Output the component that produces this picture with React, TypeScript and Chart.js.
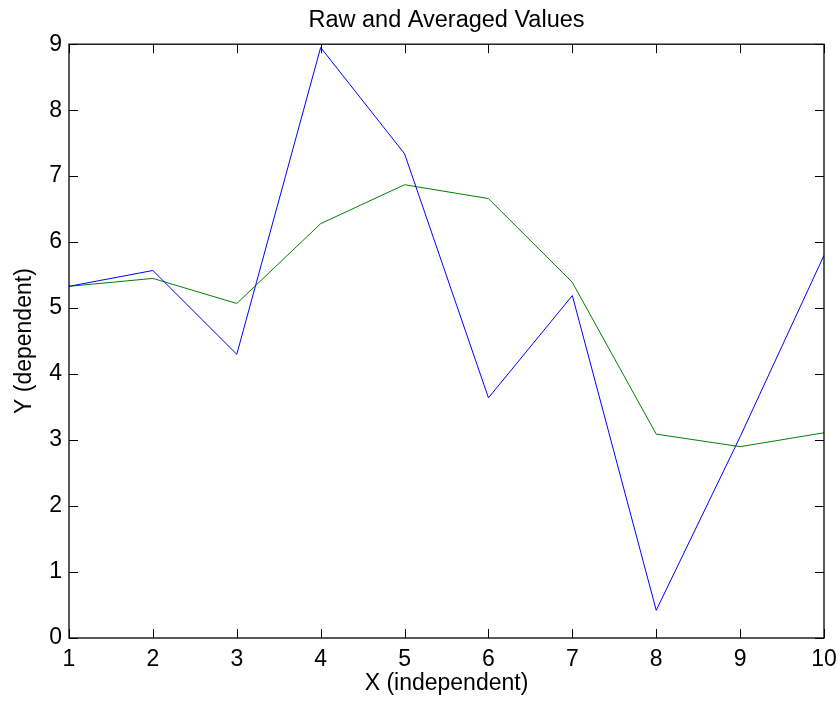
import React, { useEffect, useRef } from "react";
import { Chart, registerables } from "chart.js";

Chart.register(...registerables);

const xValues = [1, 2, 3, 4, 5, 6, 7, 8, 9, 10];
const rawValues = [5.33, 5.57, 4.30, 8.95, 7.34, 3.64, 5.19, 0.42, 3.05, 5.80];
const averagedValues = [5.33, 5.45, 5.07, 6.28, 6.87, 6.66, 5.39, 3.09, 2.90, 3.11];

const titleText = "Raw and Averaged Values";
const xLabel = "X (independent)";
const yLabel = "Y (dependent)";

const FONT = "'Liberation Sans', Arial, Helvetica, sans-serif";

const boxPlugin = {
  id: "matlabBox",
  afterDatasetsDraw(chart: any) {
    const { ctx, chartArea, scales } = chart;
    const { left, right, top, bottom } = chartArea;
    const tl = 9;
    ctx.save();
    ctx.strokeStyle = "#000";
    ctx.lineWidth = 1;
    ctx.beginPath();
    const xs = scales.x;
    xs.ticks.forEach((t: any) => {
      const px = Math.round(xs.getPixelForValue(t.value)) + 0.5;
      ctx.moveTo(px, bottom);
      ctx.lineTo(px, bottom - tl);
      ctx.moveTo(px, top);
      ctx.lineTo(px, top + tl);
    });
    const ys = scales.y;
    ys.ticks.forEach((t: any) => {
      const py = Math.round(ys.getPixelForValue(t.value)) + 0.5;
      ctx.moveTo(left, py);
      ctx.lineTo(left + tl, py);
      ctx.moveTo(right, py);
      ctx.lineTo(right - tl, py);
    });
    ctx.stroke();
    ctx.lineWidth = 1.3;
    ctx.strokeRect(left, top, right - left, bottom - top);
    ctx.restore();
  },
};

export default function App() {
  const ref = useRef<HTMLCanvasElement | null>(null);
  useEffect(() => {
    if (!ref.current) return;
    const chart = new Chart(ref.current, {
      type: "line",
      data: {
        datasets: [
          {
            label: "Raw",
            data: xValues.map((x, i) => ({ x, y: rawValues[i] })),
            borderColor: "#0000ff",
            backgroundColor: "#0000ff",
            borderWidth: 1,
            pointRadius: 0,
            tension: 0,
          },
          {
            label: "Averaged",
            data: xValues.map((x, i) => ({ x, y: averagedValues[i] })),
            borderColor: "#008000",
            backgroundColor: "#008000",
            borderWidth: 1,
            pointRadius: 0,
            tension: 0,
          },
        ],
      },
      options: {
        responsive: false,
        animation: false,
        layout: { padding: { left: 0, right: 16, top: 0, bottom: 0 } },
        plugins: {
          legend: { display: false },
          tooltip: { enabled: false },
          title: {
            display: true,
            fullSize: false,
            text: titleText,
            color: "#000",
            font: { family: FONT, size: 23.5, weight: "normal" },
            padding: { top: 6, bottom: 10 },
          },
        },
        scales: {
          x: {
            type: "linear",
            min: 1,
            max: 10,
            afterFit: (s: any) => {
              s.height = 67;
              s.paddingLeft = 0;
              s.paddingRight = 0;
            },
            ticks: {
              stepSize: 1,
              color: "#000",
              padding: 8,
              font: { family: FONT, size: 23 },
              maxRotation: 0,
            },
            grid: { display: false, drawTicks: false },
            border: { display: false },
            title: {
              display: true,
              text: xLabel,
              color: "#000",
              font: { family: FONT, size: 23 },
              padding: { top: 0, bottom: 8 },
            },
          },
          y: {
            min: 0,
            max: 9,
            afterFit: (s: any) => {
              s.width = 69;
              s.paddingTop = 0;
              s.paddingBottom = 0;
            },
            ticks: {
              stepSize: 1,
              color: "#000",
              padding: 7,
              font: { family: FONT, size: 23 },
            },
            grid: { display: false, drawTicks: false },
            border: { display: false },
            title: {
              display: true,
              text: yLabel,
              color: "#000",
              font: { family: FONT, size: 23 },
              padding: { top: 11, bottom: 0 },
            },
          },
        },
      },
      plugins: [boxPlugin],
    });
    return () => chart.destroy();
  }, []);
  return (
    <div style={{ position: "absolute", left: 0, top: 0, width: 840, height: 705, background: "#fff" }}>
      <canvas ref={ref} width={840} height={705} />
    </div>
  );
}
